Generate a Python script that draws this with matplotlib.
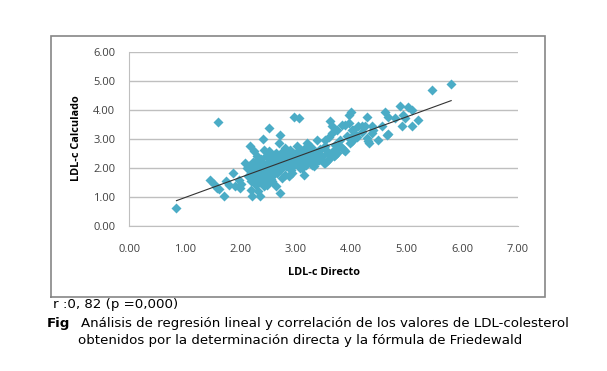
import numpy as np
import matplotlib.pyplot as plt
from matplotlib.lines import Line2D

# LDL-c Directo (x) vs LDL-c Calculado (y)
ldl_directo = [
    0.85, 1.45, 1.52, 1.58, 1.62, 1.60, 1.71, 1.75, 1.80, 1.87, 1.91, 1.97, 2.00, 2.02,
    2.09, 2.12, 2.15, 2.17, 2.19, 2.21, 2.20, 2.22, 2.24, 2.25, 2.27, 2.28, 2.30, 2.30,
    2.32, 2.33, 2.34, 2.36, 2.36, 2.38, 2.39, 2.40, 2.41, 2.42, 2.43, 2.44, 2.45, 2.46,
    2.48, 2.48, 2.50, 2.51, 2.51, 2.52, 2.54, 2.55, 2.57, 2.57, 2.58, 2.60, 2.62, 2.63,
    2.64, 2.66, 2.67, 2.69, 2.70, 2.72, 2.72, 2.73, 2.75, 2.75, 2.77, 2.79, 2.80, 2.81,
    2.83, 2.85, 2.87, 2.87, 2.89, 2.90, 2.92, 2.93, 2.95, 2.96, 2.97, 2.99, 3.02, 3.03,
    3.05, 3.05, 3.07, 3.09, 3.11, 3.12, 3.14, 3.15, 3.17, 3.17, 3.19, 3.20, 3.22, 3.23,
    3.26, 3.28, 3.29, 3.31, 3.32, 3.35, 3.36, 3.38, 3.41, 3.41, 3.44, 3.47, 3.50, 3.52,
    3.53, 3.53, 3.56, 3.58, 3.59, 3.61, 3.62, 3.65, 3.65, 3.68, 3.70, 3.71, 3.71, 3.74,
    3.76, 3.80, 3.83, 3.83, 3.86, 3.89, 3.89, 3.92, 3.95, 3.95, 3.98, 3.98, 4.00, 4.01,
    4.01, 4.04, 4.07, 4.10, 4.13, 4.19, 4.20, 4.25, 4.28, 4.28, 4.31, 4.32, 4.37, 4.37,
    4.40, 4.49, 4.55, 4.61, 4.64, 4.66, 4.67, 4.79, 4.87, 4.91, 4.94, 4.97, 5.03, 5.09,
    5.09, 5.21, 5.45, 5.80,
    2.14, 2.18, 2.23, 2.26, 2.29, 2.31, 2.35, 2.37, 2.40, 2.47, 2.53, 2.56, 2.61, 2.65,
    2.68, 2.74, 2.78, 2.84, 2.88, 2.94, 3.00, 3.04, 3.10, 3.13, 3.18, 3.24, 3.30, 3.34,
    3.40, 3.46, 3.55, 3.60, 3.66, 3.75, 3.80,
]
ldl_calculado = [
    0.62, 1.58, 1.45, 1.30, 1.25, 3.56, 1.02, 1.52, 1.40, 1.81, 1.35, 1.58, 1.30, 1.45,
    2.16, 1.99, 2.05, 2.75, 1.24, 1.01, 1.55, 1.80, 2.56, 2.10, 1.65, 1.40, 1.95, 2.25,
    1.20, 1.75, 2.05, 1.01, 1.50, 2.30, 1.85, 2.15, 2.98, 2.62, 1.35, 1.65, 2.00, 2.40,
    1.41, 1.81, 2.20, 2.56, 3.38, 1.55, 1.90, 2.10, 2.33, 1.52, 1.70, 2.45, 2.00, 2.10,
    1.35, 2.20, 1.80, 2.85, 2.40, 3.13, 1.13, 1.95, 1.64, 2.55, 2.15, 2.30, 1.75, 2.67,
    2.05, 2.45, 1.70, 2.33, 2.60, 2.20, 1.90, 1.81, 2.50, 3.74, 2.10, 2.35, 2.73, 2.25,
    3.71, 2.60, 2.00, 2.45, 1.99, 2.30, 1.76, 2.65, 2.39, 2.27, 2.10, 2.85, 2.55, 2.56,
    2.21, 2.70, 2.10, 2.40, 2.04, 2.16, 2.55, 2.96, 2.27, 2.44, 2.65, 2.39, 2.16, 2.75,
    2.96, 2.16, 2.21, 2.50, 3.07, 3.62, 2.40, 3.42, 3.19, 2.39, 2.60, 2.79, 2.44, 3.30,
    2.70, 2.96, 3.48, 2.67, 2.62, 3.48, 2.56, 3.10, 3.53, 3.82, 2.85, 3.02, 3.90, 3.30,
    2.90, 3.30, 3.15, 3.07, 3.42, 3.24, 3.42, 3.45, 3.76, 3.02, 2.90, 2.85, 3.19, 3.42,
    3.30, 2.96, 3.42, 3.91, 3.12, 3.76, 3.16, 3.71, 4.14, 3.42, 3.82, 3.71, 4.09, 3.99,
    3.42, 3.65, 4.66, 4.88,
    1.70, 1.90, 2.20, 1.50, 1.85, 2.40, 1.60, 1.95, 1.75, 2.10, 2.30, 1.60, 1.85, 2.50,
    2.05, 2.20, 2.45, 2.25, 2.10, 2.40, 2.15, 2.40, 2.60, 2.20, 2.50, 2.30, 2.60, 2.35,
    2.50, 2.30, 2.60, 2.30, 2.55, 2.50, 2.75,
]
x_ticks = [0, 1, 2, 3, 4, 5, 6, 7]
y_ticks = [0, 1, 2, 3, 4, 5, 6]

x = np.array(ldl_directo)
y = np.array(ldl_calculado)
pendiente, ordenada = np.polyfit(x, y, 1)
x_linea = np.array([x.min(), x.max()])

plt.rcParams['font.family'] = ['Open Sans', 'DejaVu Sans']

fig = plt.figure(figsize=(6.07, 3.71), dpi=100)
fig.patch.set_facecolor('white')

ax = fig.add_axes([0.213, 0.392, 0.640, 0.469])
ax.set_xlim(0, 7)
ax.set_ylim(0, 6)
ax.set_xticks(x_ticks)
ax.set_yticks(y_ticks)
ax.set_xticklabels([f'{v:.2f}' for v in x_ticks])
ax.set_yticklabels([f'{v:.2f}' for v in y_ticks])
ax.tick_params(length=0, labelsize=8, colors='#404040')
ax.tick_params(axis='x', pad=13)
ax.tick_params(axis='y', pad=10)
ax.grid(axis='y', color='#bfbfbf', linewidth=1.0)
ax.set_axisbelow(True)
for s in ['top', 'right']:
    ax.spines[s].set_visible(False)
ax.spines['left'].set_color('#bfbfbf')
ax.spines['bottom'].set_color('#bfbfbf')

ax.scatter(x, y, marker='D', s=26, color='#4bacc6', linewidths=0, zorder=3)
ax.plot(x_linea, pendiente * x_linea + ordenada, color='#333333', linewidth=0.8, zorder=4)

ax.set_xlabel('LDL-c Directo', fontsize=7.8, fontweight='bold', labelpad=9)
ax.set_ylabel('LDL-c Calculado', fontsize=7.8, fontweight='bold', labelpad=8)

# marco del grafico, como linea en coordenadas de figura
x0, x1, y0, y1 = 0.0835, 0.8984, 0.2003, 0.903
marco = Line2D([x0, x1, x1, x0, x0], [y0, y0, y1, y1, y0], transform=fig.transFigure,
               color='#868686', linewidth=1.2, solid_joinstyle='miter')
fig.lines.append(marco)

fig.text(0.088, 0.18, 'r :0, 82 (p =0,000)', fontsize=9.6, family='DejaVu Sans', va='center')
fig.text(0.077, 0.128, 'Fig', fontsize=9.6, family='DejaVu Sans', fontweight='bold', va='center')
fig.text(0.133, 0.128, 'Análisis de regresión lineal y correlación de los valores de LDL-colesterol',
         fontsize=9.6, family='DejaVu Sans', va='center')
fig.text(0.128, 0.083, 'obtenidos por la determinación directa y la fórmula de Friedewald',
         fontsize=9.6, family='DejaVu Sans', va='center')

fig.savefig('out.png', dpi=100)
